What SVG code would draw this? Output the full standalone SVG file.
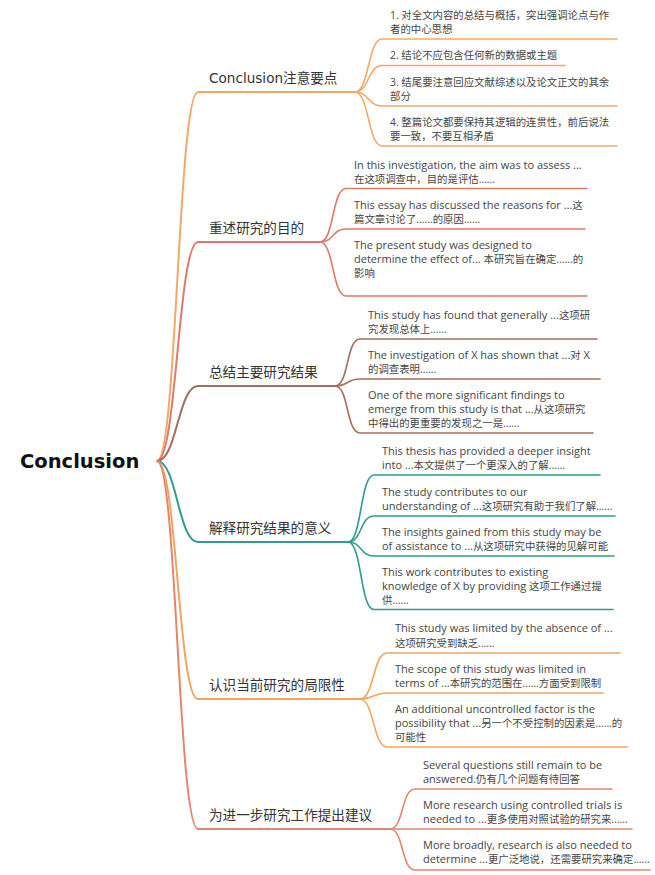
<svg xmlns="http://www.w3.org/2000/svg" width="655" height="875" viewBox="0 0 655 875">
<style>
.root{font-family:"DejaVu Sans","Noto Sans CJK SC",sans-serif;font-weight:bold;font-size:19.5px;fill:#111}
.br{font-family:"DejaVu Sans","Noto Sans CJK SC",sans-serif;font-size:13.6px;fill:#333}
.ch{font-family:"Open Sans","Noto Sans CJK SC",sans-serif;font-size:11px;fill:#444}
.z{font-size:10.4px}
.c{fill:none;stroke-linecap:round}
.b{stroke-width:2}
.k{stroke-width:1.6}
.o1{stroke:#F4A868}.o2{stroke:#DC7B68}.o3{stroke:#A46E5C}.o4{stroke:#2E9D8B}.o5{stroke:#F2A45C}.o6{stroke:#E2866C}
</style>
<rect width="655" height="875" fill="#fff"/>
<g id="connectors">
<path class="c b o1" d="M157,461 C177,461 178,92 198,92 H355"/>
<path class="c b o2" d="M157,461 C177,461 178,242 198,242 H320"/>
<path class="c b o3" d="M157,461 C177,461 178,386 198,386 H335"/>
<path class="c b o4" d="M157,461 C177,461 178,542 198,542 H348"/>
<path class="c b o5" d="M157,461 C177,461 178,699 198,699 H360"/>
<path class="c b o6" d="M157,461 C177,461 178,829 198,829 H390"/>
<path class="c k o1" d="M355,92 C369,92 368,39 382,39 H617"/>
<path class="c k o1" d="M355,92 C369,92 368,65.5 382,65.5 H565"/>
<path class="c k o1" d="M355,92 C369,92 368,106 382,106 H617"/>
<path class="c k o1" d="M355,92 C369,92 368,146 382,146 H617"/>
<path class="c k o2" d="M320,242 C334,242 332,188.5 346,188.5 H587"/>
<path class="c k o2" d="M320,242 C334,242 332,229 346,229 H585"/>
<path class="c k o2" d="M320,242 C334,242 332,296 346,296 H587"/>
<path class="c k o3" d="M335,386 C349,386 346,339 360,339 H597"/>
<path class="c k o3" d="M335,386 C349,386 346,379 360,379 H600"/>
<path class="c k o3" d="M335,386 C349,386 346,433 360,433 H593"/>
<path class="c k o4" d="M348,542 C362,542 360,475 374,475 H600"/>
<path class="c k o4" d="M348,542 C362,542 360,516 374,516 H615"/>
<path class="c k o4" d="M348,542 C362,542 360,556 374,556 H614"/>
<path class="c k o4" d="M348,542 C362,542 360,609.5 374,609.5 H613"/>
<path class="c k o5" d="M360,699 C374,699 373,653 387,653 H620"/>
<path class="c k o5" d="M360,699 C374,699 373,693 387,693 H603"/>
<path class="c k o5" d="M360,699 C374,699 373,747 387,747 H627"/>
<path class="c k o6" d="M390,829 C404,829 401,789 415,789 H612"/>
<path class="c k o6" d="M390,829 H632"/>
<path class="c k o6" d="M390,829 C404,829 401,870 415,870 H650"/>
</g>
<g id="root"><text class="root" x="20" y="468">Conclusion</text></g>
<g id="b1"><text class="br" x="209" y="82.5">Conclusion注意要点</text></g>
<g id="b1c1"><text class="ch z" x="390"><tspan x="390" y="18.5">1. 对全文内容的总结与概括，突出强调论点与作</tspan><tspan x="390" y="32.5">者的中心思想</tspan></text></g>
<g id="b1c2"><text class="ch z" x="390" y="59">2. 结论不应包含任何新的数据或主题</text></g>
<g id="b1c3"><text class="ch z" x="390"><tspan x="390" y="85.5">3. 结尾要注意回应文献综述以及论文正文的其余</tspan><tspan x="390" y="99.5">部分</tspan></text></g>
<g id="b1c4"><text class="ch z" x="390"><tspan x="390" y="125.5">4. 整篇论文都要保持其逻辑的连贯性，前后说法</tspan><tspan x="390" y="139.5">要一致，不要互相矛盾</tspan></text></g>
<g id="b2"><text class="br" x="209" y="232.5">重述研究的目的</text></g>
<g id="b2c1"><text class="ch" x="354"><tspan x="354" y="169">In this investigation, the aim was to assess ...</tspan><tspan x="354" y="183" class="z">在这项调查中，目的是评估......</tspan></text></g>
<g id="b2c2"><text class="ch" x="354"><tspan x="354" y="209">This essay has discussed the reasons for ...<tspan class="z">这</tspan></tspan><tspan x="354" y="223" class="z">篇文章讨论了......的原因......</tspan></text></g>
<g id="b2c3"><text class="ch" x="354"><tspan x="354" y="249">The present study was designed to</tspan><tspan x="354" y="263">determine the effect of... <tspan class="z">本研究旨在确定......的</tspan></tspan><tspan x="354" y="277" class="z">影响</tspan></text></g>
<g id="b3"><text class="br" x="209" y="376.5">总结主要研究结果</text></g>
<g id="b3c1"><text class="ch" x="368"><tspan x="368" y="319">This study has found that generally ...<tspan class="z">这项研</tspan></tspan><tspan x="368" y="333" class="z">究发现总体上......</tspan></text></g>
<g id="b3c2"><text class="ch" x="368"><tspan x="368" y="359">The investigation of X has shown that ...<tspan class="z">对</tspan> X</tspan><tspan x="368" y="373" class="z">的调查表明......</tspan></text></g>
<g id="b3c3"><text class="ch" x="368"><tspan x="368" y="399">One of the more significant findings to</tspan><tspan x="368" y="413">emerge from this study is that ...<tspan class="z">从这项研究</tspan></tspan><tspan x="368" y="427" class="z">中得出的更重要的发现之一是......</tspan></text></g>
<g id="b4"><text class="br" x="209" y="532.5">解释研究结果的意义</text></g>
<g id="b4c1"><text class="ch" x="382"><tspan x="382" y="455">This thesis has provided a deeper insight</tspan><tspan x="382" y="469">into ...<tspan class="z">本文提供了一个更深入的了解......</tspan></tspan></text></g>
<g id="b4c2"><text class="ch" x="382"><tspan x="382" y="495.5">The study contributes to our</tspan><tspan x="382" y="509.5">understanding of ...<tspan class="z">这项研究有助于我们了解......</tspan></tspan></text></g>
<g id="b4c3"><text class="ch" x="382"><tspan x="382" y="536">The insights gained from this study may be</tspan><tspan x="382" y="550">of assistance to ...<tspan class="z">从这项研究中获得的见解可能</tspan></tspan></text></g>
<g id="b4c4"><text class="ch" x="382"><tspan x="382" y="576">This work contributes to existing</tspan><tspan x="382" y="590">knowledge of X by providing <tspan class="z">这项工作通过提</tspan></tspan><tspan x="382" y="604" class="z">供......</tspan></text></g>
<g id="b5"><text class="br" x="209" y="689.5">认识当前研究的局限性</text></g>
<g id="b5c1"><text class="ch" x="395"><tspan x="395" y="632">This study was limited by the absence of ...</tspan><tspan x="395" y="646.5" class="z">这项研究受到缺乏......</tspan></text></g>
<g id="b5c2"><text class="ch" x="395"><tspan x="395" y="672.5">The scope of this study was limited in</tspan><tspan x="395" y="686.5">terms of ...<tspan class="z">本研究的范围在......方面受到限制</tspan></tspan></text></g>
<g id="b5c3"><text class="ch" x="395"><tspan x="395" y="712.5">An additional uncontrolled factor is the</tspan><tspan x="395" y="726.5">possibility that ...<tspan class="z">另一个不受控制的因素是......的</tspan></tspan><tspan x="395" y="740.5" class="z">可能性</tspan></text></g>
<g id="b6"><text class="br" x="209" y="819.5">为进一步研究工作提出建议</text></g>
<g id="b6c1"><text class="ch" x="423"><tspan x="423" y="769">Several questions still remain to be</tspan><tspan x="423" y="783">answered.<tspan class="z">仍有几个问题有待回答</tspan></tspan></text></g>
<g id="b6c2"><text class="ch" x="423"><tspan x="423" y="809">More research using controlled trials is</tspan><tspan x="423" y="823">needed to ...<tspan class="z">更多使用对照试验的研究来......</tspan></tspan></text></g>
<g id="b6c3"><text class="ch" x="423"><tspan x="423" y="849">More broadly, research is also needed to</tspan><tspan x="423" y="863">determine ...<tspan class="z">更广泛地说，还需要研究来确定......</tspan></tspan></text></g>
</svg>
